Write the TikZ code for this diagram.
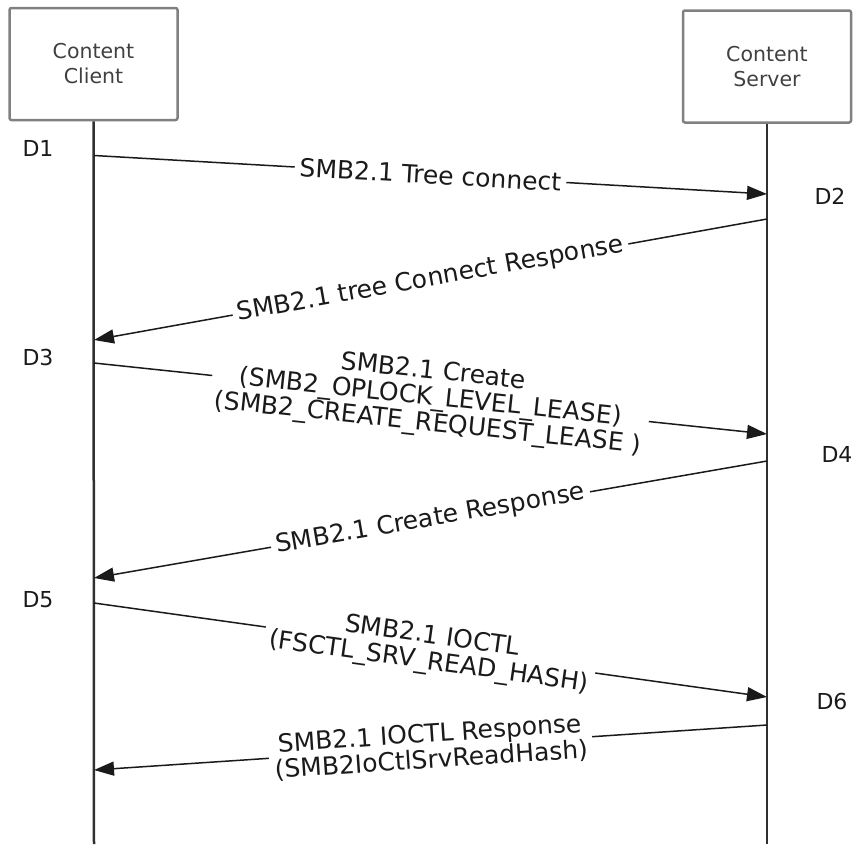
\documentclass[tikz,border=0pt]{standalone}
\usepackage{fontspec}
\setmainfont{DejaVu Sans}
\usetikzlibrary{arrows.meta}
\definecolor{boxgray}{HTML}{808080}
\definecolor{textgray}{HTML}{404040}
\definecolor{lifegray}{HTML}{303030}
\definecolor{textdark}{HTML}{1A1A1A}
\begin{document}
\begin{tikzpicture}[x=1pt,y=-1pt,
  actor/.style={draw=boxgray, line width=2.5pt, rounded corners=2pt, minimum width=168pt, minimum height=112pt, inner sep=0pt, align=center, text=textgray, font=\fontsize{20.5}{25}\selectfont},
  life/.style={line width=2.5pt, draw=lifegray},
  msg/.style={line width=1.5pt, draw=textdark, -{Triangle[length=20pt,width=14pt]}},
  lbl/.style={midway, sloped, fill=white, inner xsep=5pt, inner ysep=1pt, align=center, text=textdark, font=\fontsize{25}{26}\selectfont},
  tag/.style={text=textdark, font=\fontsize{22}{24}\selectfont}]
\useasboundingbox (0,0) rectangle (853,844);
\node[actor] (client) at (93.5,64) {Content\\Client};
\node[actor] (server) at (767,66.5) {Content\\Server};
\coordinate (cbot) at (94,844);
\coordinate (sbot) at (767,844);
\draw[life] (client.south) -- (cbot);
\draw[life] (server.south) -- (sbot);
% message end points
\coordinate (c1) at (94,155.5);
\coordinate (s1) at (767,194);
\coordinate (s2) at (767,219);
\coordinate (c2) at (94,340);
\coordinate (c3) at (94,363);
\coordinate (s3) at (767,434);
\coordinate (s4) at (767,461);
\coordinate (c4) at (94,578);
\coordinate (c5) at (94,603);
\coordinate (s5) at (767,697);
\coordinate (s6) at (767,725);
\coordinate (c6) at (94,770);
\draw[msg] (c1) -- node[lbl] {SMB2.1 Tree connect} (s1);
\draw[msg] (s2) -- node[lbl] {SMB2.1 tree Connect Response} (c2);
\draw[msg] (c3) -- node[lbl] {SMB2.1 Create\\(SMB2\_OPLOCK\_LEVEL\_LEASE)\\(SMB2\_CREATE\_REQUEST\_LEASE )} (s3);
\draw[msg] (s4) -- node[lbl] {SMB2.1 Create Response} (c4);
\draw[msg] (c5) -- node[lbl] {SMB2.1 IOCTL\\(FSCTL\_SRV\_READ\_HASH)} (s5);
\draw[msg] (s6) -- node[lbl] {SMB2.1 IOCTL Response\\(SMB2IoCtlSrvReadHash)} (c6);
\node[tag] (d1) at (38,148) {D1};
\node[tag] (d2) at (830,196) {D2};
\node[tag] (d3) at (38,357) {D3};
\node[tag] (d4) at (837,454) {D4};
\node[tag] (d5) at (38,600) {D5};
\node[tag] (d6) at (832,701) {D6};
\end{tikzpicture}
\end{document}
